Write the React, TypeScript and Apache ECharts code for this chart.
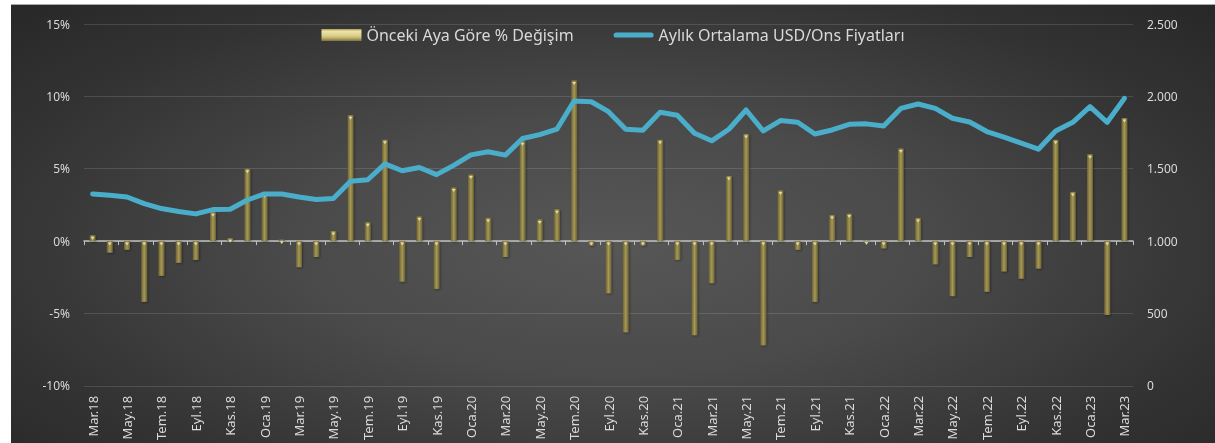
import React, { useEffect, useRef } from "react";
import * as echarts from "echarts";

const categories: string[] = [
  "Mar.18", "Nis.18", "May.18", "Haz.18", "Tem.18", "Ağu.18", "Eyl.18", "Eki.18", "Kas.18", "Ara.18",
  "Oca.19", "Şub.19", "Mar.19", "Nis.19", "May.19", "Haz.19", "Tem.19", "Ağu.19", "Eyl.19", "Eki.19",
  "Kas.19", "Ara.19", "Oca.20", "Şub.20", "Mar.20", "Nis.20", "May.20", "Haz.20", "Tem.20", "Ağu.20",
  "Eyl.20", "Eki.20", "Kas.20", "Ara.20", "Oca.21", "Şub.21", "Mar.21", "Nis.21", "May.21", "Haz.21",
  "Tem.21", "Ağu.21", "Eyl.21", "Eki.21", "Kas.21", "Ara.21", "Oca.22", "Şub.22", "Mar.22", "Nis.22",
  "May.22", "Haz.22", "Tem.22", "Ağu.22", "Eyl.22", "Eki.22", "Kas.22", "Ara.22", "Oca.23", "Şub.23",
  "Mar.23",
];

const monthlyChange: number[] = [
  0.4, -0.8, -0.6, -4.2, -2.4, -1.5, -1.3, 2.0, 0.2, 5.0,
  3.3, 0.1, -1.8, -1.1, 0.7, 8.7, 1.3, 7.0, -2.8, 1.7,
  -3.3, 3.7, 4.6, 1.6, -1.1, 6.9, 1.5, 2.2, 11.1, -0.3,
  -3.6, -6.3, -0.3, 7.0, -1.3, -6.5, -2.9, 4.5, 7.4, -7.2,
  3.5, -0.6, -4.2, 1.8, 1.9, 0.05, -0.5, 6.4, 1.6, -1.6,
  -3.8, -1.1, -3.5, -2.1, -2.6, -1.9, 7.0, 3.4, 6.0, -5.1,
  8.5,
];

const avgPrice: number[] = [
  1326, 1317, 1305, 1259, 1225, 1204, 1188, 1218, 1220, 1284,
  1326, 1326, 1305, 1287, 1294, 1413, 1424, 1534, 1486, 1509,
  1459, 1523, 1596, 1617, 1594, 1709, 1736, 1773, 1968, 1963,
  1894, 1773, 1766, 1890, 1869, 1745, 1693, 1773, 1906, 1761,
  1833, 1821, 1740, 1768, 1807, 1810, 1796, 1917, 1947, 1917,
  1849, 1823, 1757, 1718, 1677, 1635, 1761, 1821, 1929, 1821,
  1986,
];

const barName = "Önceki Aya Göre % Değişim";
const lineName = "Aylık Ortalama USD/Ons Fiyatları";

const FONT = "'Noto Sans', 'Open Sans', sans-serif";
const TEXT = "#d9d9d9";
const LINE_COLOR = "#4aaecb";

const fmtThousands = (v: number) =>
  v >= 1000 ? `${Math.floor(v / 1000)}.${String(v % 1000).padStart(3, "0")}` : String(v);

export default function App() {
  const ref = useRef<HTMLDivElement>(null);
  useEffect(() => {
    if (!ref.current) return;
    const chart = echarts.init(ref.current, undefined, { renderer: "svg" });
    const barGrad = new echarts.graphic.LinearGradient(0, 0, 1, 0, [
      { offset: 0, color: "#6a6130" },
      { offset: 0.5, color: "#a69858" },
      { offset: 1, color: "#6a6130" },
    ]);
    const legendGrad = new echarts.graphic.LinearGradient(0, 0, 0, 1, [
      { offset: 0, color: "#a99c5c" },
      { offset: 0.2, color: "#eee4a4" },
      { offset: 0.6, color: "#d8cc86" },
      { offset: 0.8, color: "#b3a563" },
      { offset: 1, color: "#7c7140" },
    ]);
    const barTops = monthlyChange.map((v) => Math.max(v, 0));
    chart.setOption({
      animation: false,
      backgroundColor: "transparent",
      textStyle: { fontFamily: FONT },
      legend: {
        top: 17,
        left: "center",
        itemWidth: 40,
        itemHeight: 12,
        itemGap: 40,
        textStyle: { color: TEXT, fontSize: 16, fontFamily: FONT },
        data: [
          { name: barName, icon: "rect", itemStyle: { color: legendGrad } },
          {
            name: lineName,
            icon: "path://M3,0 L43,0 A3,3 0 0 1 43,6 L3,6 A3,3 0 0 1 3,0 Z",
            itemStyle: { color: LINE_COLOR },
          },
        ],
      },
      grid: { left: 73, right: 82, top: 19, bottom: 55, containLabel: false },
      xAxis: [
        {
          type: "category",
          data: categories,
          position: "bottom",
          axisLine: { show: false, onZero: false },
          axisTick: { show: false },
          axisLabel: {
            interval: 1,
            rotate: 90,
            color: TEXT,
            fontSize: 13,
            fontFamily: FONT,
            margin: 10,
          },
          splitLine: { show: false },
        },
        {
          type: "category",
          data: categories,
          position: "bottom",
          axisLine: {
            show: true,
            onZero: true,
            onZeroAxisIndex: 0,
            lineStyle: { color: "#c0c0c0", width: 1.5 },
          },
          axisTick: { show: true, interval: 1, length: 4, lineStyle: { color: "#c0c0c0" } },
          axisLabel: { show: false },
          splitLine: { show: false },
        },
      ],
      yAxis: [
        {
          type: "value",
          min: -10,
          max: 15,
          interval: 5,
          axisLine: { show: false },
          axisTick: { show: false },
          axisLabel: {
            formatter: "{value}%",
            color: TEXT,
            fontSize: 12,
            fontFamily: FONT,
            margin: 14,
          },
          splitLine: { show: true, lineStyle: { color: "rgba(255,255,255,0.13)", width: 1 } },
        },
        {
          type: "value",
          min: 0,
          max: 2500,
          interval: 500,
          position: "right",
          axisLine: { show: false },
          axisTick: { show: false },
          axisLabel: {
            formatter: (v: number) => fmtThousands(v),
            color: TEXT,
            fontSize: 12,
            fontFamily: FONT,
            margin: 14,
          },
          splitLine: { show: false },
        },
      ],
      series: [
        {
          name: barName,
          type: "bar",
          xAxisIndex: 0,
          yAxisIndex: 0,
          data: monthlyChange,
          barWidth: 6,
          itemStyle: {
            color: barGrad,
            shadowColor: "rgba(0,0,0,0.35)",
            shadowBlur: 2,
            shadowOffsetX: 1,
            shadowOffsetY: 1,
          },
        },
        {
          name: "barTopHighlight",
          type: "scatter",
          xAxisIndex: 0,
          yAxisIndex: 0,
          data: barTops,
          symbol: "triangle",
          symbolRotate: 180,
          symbolSize: [4, 3],
          symbolOffset: [0, 3],
          itemStyle: { color: "#f3ecbc" },
          silent: true,
          z: 3,
        },
        {
          name: lineName,
          type: "line",
          xAxisIndex: 0,
          yAxisIndex: 1,
          data: avgPrice,
          symbol: "none",
          showSymbol: false,
          smooth: false,
          lineStyle: { color: LINE_COLOR, width: 5, cap: "round", join: "round" },
          itemStyle: { color: LINE_COLOR },
          z: 4,
        },
      ],
    });
    return () => chart.dispose();
  }, []);
  return (
    <div
      style={{
        position: "fixed",
        left: 11,
        top: 4,
        width: 1204,
        height: 439,
        borderTop: "1px solid #a8a8a8",
        boxSizing: "border-box",
        background:
          "radial-gradient(ellipse 75% 85% at 50% 55%, #575757 0%, #4a4a4a 35%, #333333 70%, #242424 100%)",
      }}
    >
      <div ref={ref} style={{ width: 1204, height: 438 }} />
    </div>
  );
}
